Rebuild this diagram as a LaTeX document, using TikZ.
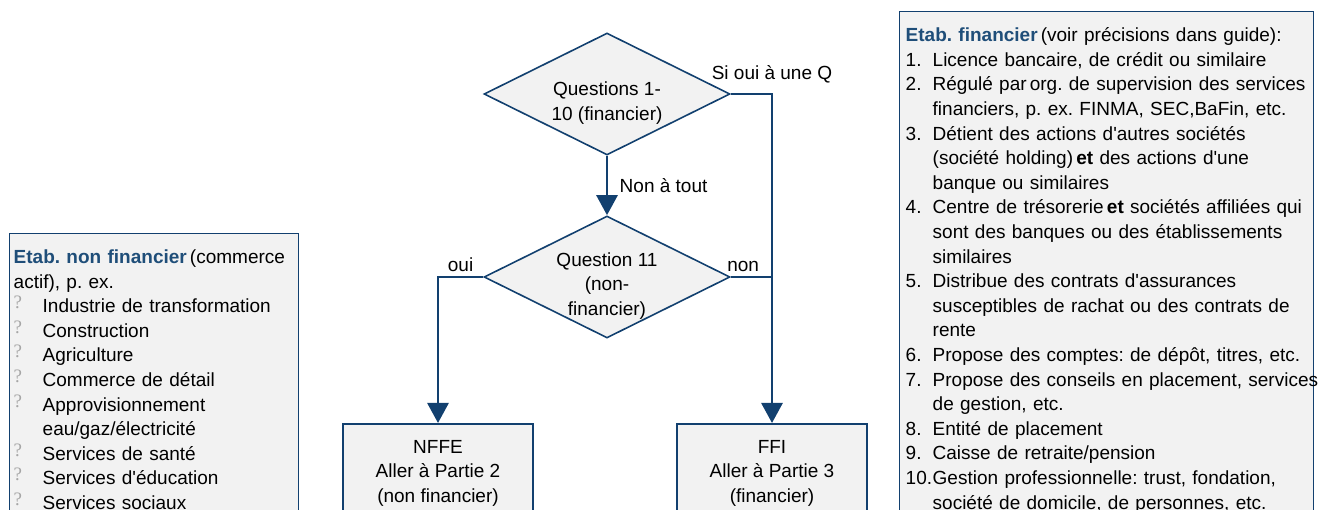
\documentclass[tikz,border=0pt]{standalone}
\usepackage{fontspec}
\setmainfont{Liberation Sans}[Ligatures=TeXOff]
\newfontfamily\qmfont{Liberation Serif}
\usetikzlibrary{shapes.geometric,arrows.meta,positioning,math}
\definecolor{flowblue}{HTML}{12406F}
\definecolor{titleblue}{HTML}{1F4E79}
\definecolor{boxgray}{HTML}{F2F2F2}
\definecolor{qmgray}{HTML}{A6A6A6}
\newcommand{\qmark}{\makebox[29pt][l]{\raisebox{4pt}{\qmfont\color{qmgray}?}}}
\newcommand{\itemnr}[1]{\makebox[27pt][l]{#1}}
\frenchspacing

\begin{document}
\begin{tikzpicture}[x=1pt,y=-1pt]

\tikzmath{
	\W = 246;
	\H = 122;
}

\tikzset{
	every node/.style={font=\fontsize{19pt}{24.6pt}\selectfont},
	decision/.style={diamond, draw=flowblue, line width=1.6pt, fill=boxgray,
		minimum width=\W pt, minimum height=\H pt, inner sep=0pt},
	outcome/.style={draw=flowblue, line width=2pt, fill=boxgray, anchor=north,
		minimum width=190pt, align=center, inner ysep=16pt},
	infobox/.style={draw=flowblue, line width=1.4pt, fill=boxgray, anchor=north west,
		align=left, inner ysep=16pt},
	link/.style={draw=flowblue, line width=2.8pt},
	flow/.style={link, -{Triangle[length=20pt,width=21pt]}}
}

\useasboundingbox (0,0) rectangle (1320,510);
\clip (0,0) rectangle (1320,510);

\node[decision, label={[yshift=-9pt, align=center]center:{Questions 1-\\10 (financier)}}] (q1) at (607,94) {};
\node[decision, label={[yshift=-9pt, align=center]center:{Question 11\\(non-\\financier)}}] (q2) at (607,277) {};

\node[outcome] (nffe) at (438,423) {NFFE\\Aller à Partie 2\\(non financier)};
\node[outcome] (ffi) at (772,423) {FFI\\Aller à Partie 3\\(financier)};

\node[infobox, text width=281pt, inner xsep=4pt] (nonfin) at (9,233) {%
	\textbf{\color{titleblue}Etab. non financier}\,(commerce\\
	actif), p. ex.\\
	\qmark Industrie de transformation\\
	\qmark Construction\\
	\qmark Agriculture\\
	\qmark Commerce de détail\\
	\qmark Approvisionnement\\
	\hspace*{29pt}eau/gaz/électricité\\
	\qmark Services de santé\\
	\qmark Services d'éducation\\
	\qmark Services sociaux};

\node[infobox, text width=402pt, inner xsep=6pt] (fin) at (899,11) {%
	\textbf{\color{titleblue}Etab. financier}\,(voir précisions dans guide):\\
	\itemnr{1.}Licence bancaire, de crédit ou similaire\\
	\mbox{\itemnr{2.}Régulé par\,org. de supervision des services}\\
	\itemnr{}financiers, p. ex. FINMA, SEC,BaFin, etc.\\
	\itemnr{3.}Détient des actions d'autres sociétés\\
	\itemnr{}(société holding)\,\textbf{et} des actions d'une\\
	\itemnr{}banque ou similaires\\
	\mbox{\itemnr{4.}Centre de trésorerie\,\textbf{et} sociétés affiliées qui}\\
	\itemnr{}sont des banques ou des établissements\\
	\itemnr{}similaires\\
	\itemnr{5.}Distribue des contrats d'assurances\\
	\itemnr{}susceptibles de rachat ou des contrats de\\
	\itemnr{}rente\\
	\mbox{\itemnr{6.}Propose des comptes: de dépôt, titres, etc.}\\
	\mbox{\itemnr{7.}Propose des conseils en placement, services}\\
	\itemnr{}de gestion, etc.\\
	\itemnr{8.}Entité de placement\\
	\itemnr{9.}Caisse de retraite/pension\\
	\itemnr{10.}Gestion professionnelle: trust, fondation,\\
	\itemnr{}société de domicile, de personnes, etc.};

\coordinate (k1) at (q1.east -| ffi.north);
\coordinate (k2) at (q2.west -| nffe.north);

\draw[flow] (q1.south) -- node[right=8pt] {Non à tout} (q2.north);
\draw[flow] (q1.east) -- (k1) node[above=6pt] {Si oui à une Q} -- (ffi.north);
\draw[link] (q2.east) -- node[above=1pt, pos=0.3] {non} (q2.east -| ffi.north);
\draw[flow] (q2.west) -- node[above=1pt] {oui} (k2) -- (nffe.north);

\end{tikzpicture}
\end{document}
